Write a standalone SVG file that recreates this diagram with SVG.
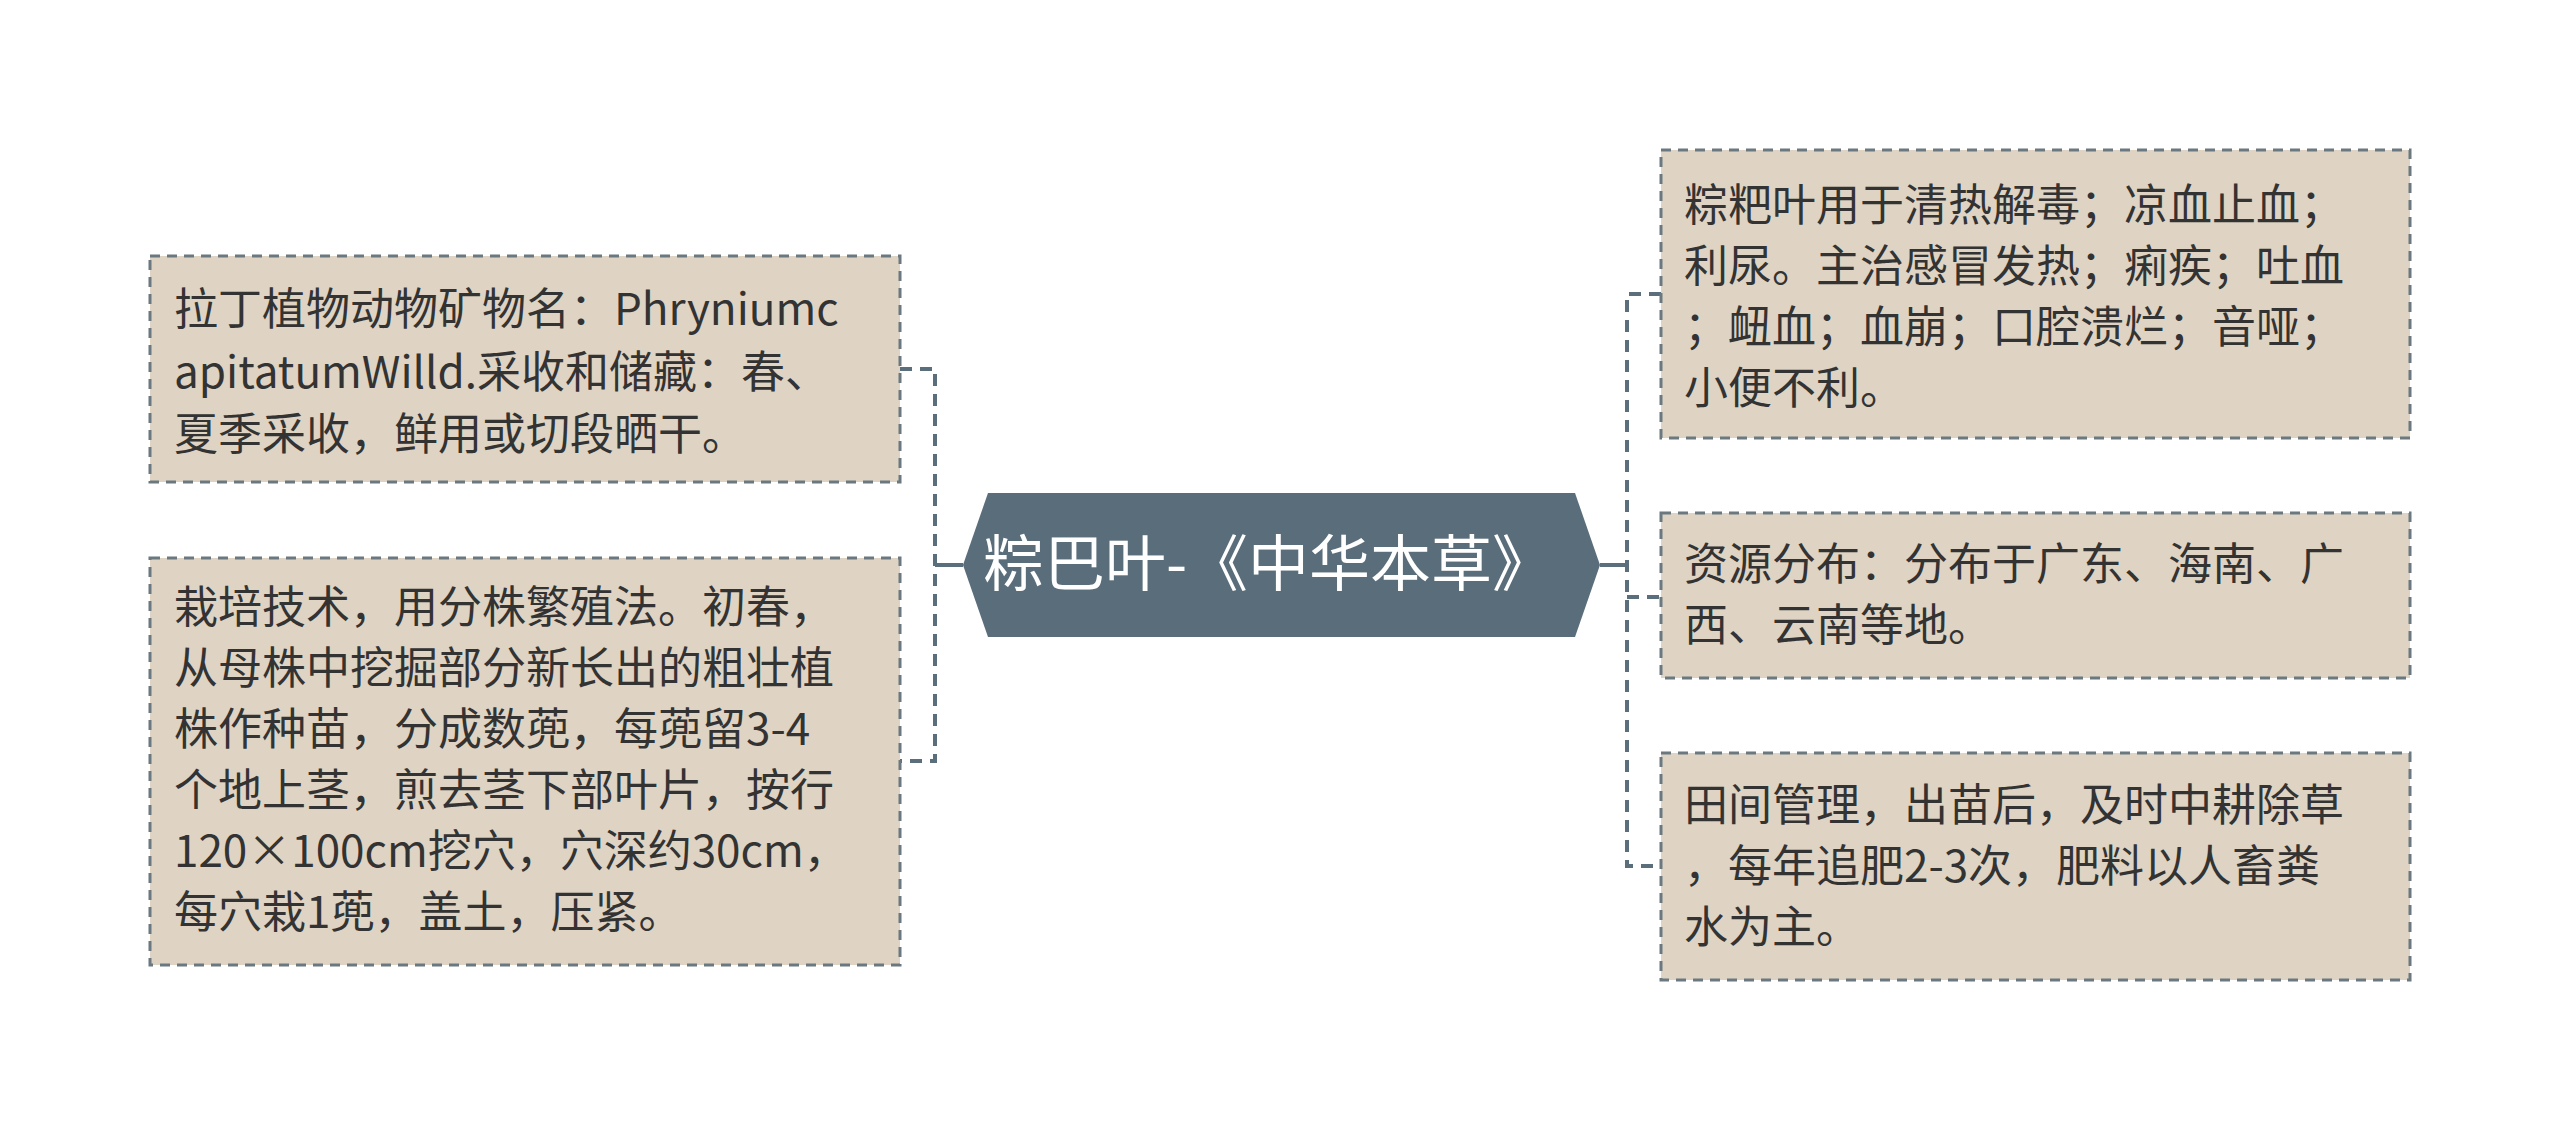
<svg xmlns="http://www.w3.org/2000/svg" width="2560" height="1131" viewBox="0 0 2560 1131">
<style>
.box{fill:#dfd4c4;stroke:#6b7880;stroke-width:3;stroke-dasharray:10 7}
.t{font-family:"Noto Sans CJK SC","Noto Sans",sans-serif;font-size:44px;fill:#333}
.c{fill:none;stroke:#5b6e7b;stroke-width:4;stroke-dasharray:12 8}
.s{fill:none;stroke:#5b6e7b;stroke-width:4}
</style>
<rect width="2560" height="1131" fill="#fff"/>
<g id="connectors">
<path class="s" d="M963 565H935"/>
<path class="c" d="M900 369H935V761H900"/>
<path class="s" d="M1600 565H1627"/>
<path class="c" d="M1661 294H1627V866H1661M1627 597H1661"/>
</g>
<g id="center">
<polygon points="963,565 988,493 1575,493 1600,565 1575,637 988,637" fill="#5a6d7a"/>
<text x="1268" y="586" text-anchor="middle" font-family="Noto Sans CJK SC,sans-serif" font-size="61" fill="#fff">粽巴叶-《中华本草》</text>
</g>
<g id="left1">
<rect class="box" x="150" y="256" width="750" height="226"/>
<text class="t"><tspan x="174" y="325">拉丁植物动物矿物名：Phryniumc</tspan><tspan x="174" y="388">apitatumWilld.采收和储藏：春、</tspan><tspan x="174" y="450">夏季采收，鲜用或切段晒干。</tspan></text>
</g>
<g id="left2">
<rect class="box" x="150" y="558" width="750" height="407"/>
<text class="t"><tspan x="174" y="623">栽培技术，用分株繁殖法。初春，</tspan><tspan x="174" y="684">从母株中挖掘部分新长出的粗壮植</tspan><tspan x="174" y="745">株作种苗，分成数蔸，每蔸留3-4</tspan><tspan x="174" y="806">个地上茎，煎去茎下部叶片，按行</tspan><tspan x="174" y="867">120×100cm挖穴，穴深约30cm，</tspan><tspan x="174" y="928">每穴栽1蔸，盖土，压紧。</tspan></text>
</g>
<g id="right1">
<rect class="box" x="1661" y="150" width="749" height="288"/>
<text class="t"><tspan x="1684" y="221">粽粑叶用于清热解毒；凉血止血；</tspan><tspan x="1684" y="282">利尿。主治感冒发热；痢疾；吐血</tspan><tspan x="1684" y="343">；衄血；血崩；口腔溃烂；音哑；</tspan><tspan x="1684" y="404">小便不利。</tspan></text>
</g>
<g id="right2">
<rect class="box" x="1661" y="513" width="749" height="165"/>
<text class="t"><tspan x="1684" y="580">资源分布：分布于广东、海南、广</tspan><tspan x="1684" y="641">西、云南等地。</tspan></text>
</g>
<g id="right3">
<rect class="box" x="1661" y="753" width="749" height="227"/>
<text class="t"><tspan x="1684" y="821">田间管理，出苗后，及时中耕除草</tspan><tspan x="1684" y="882">，每年追肥2-3次，肥料以人畜粪</tspan><tspan x="1684" y="943">水为主。</tspan></text>
</g>
</svg>
